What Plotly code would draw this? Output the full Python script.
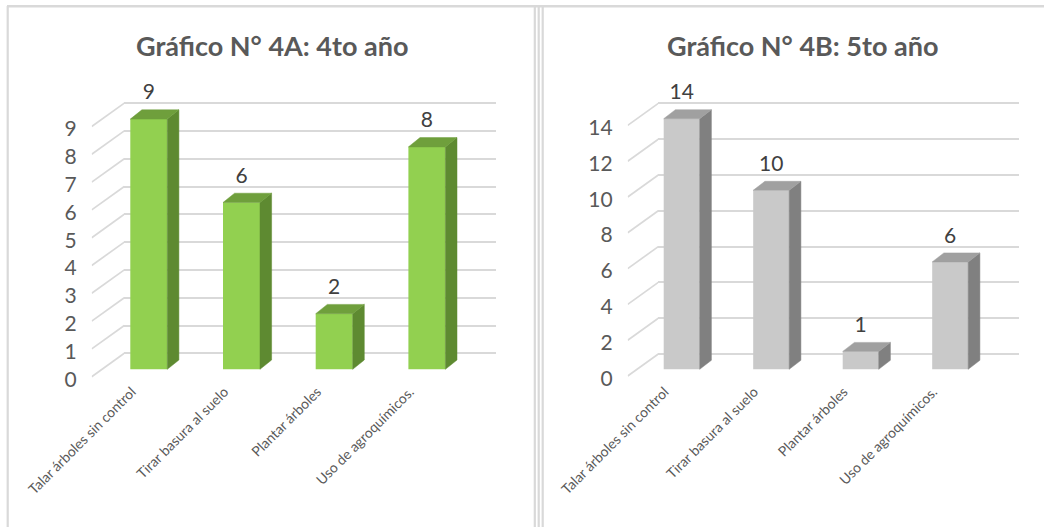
import plotly.graph_objects as go

# ---------------- data ----------------
categories = ["Talar árboles sin control", "Tirar basura al suelo", "Plantar árboles", "Uso de agroquímicos."]
values_4a = [9, 6, 2, 8]
values_4b = [14, 10, 1, 6]
ticks_4a = list(range(0, 10))
ticks_4b = list(range(0, 15, 2))
title_4a = "Gráfico N° 4A: 4to año"
title_4b = "Gráfico N° 4B: 5to año"

# ---------------- layout geometry (pixels) ----------------
W, H = 1044, 527
TOP, BOT = 70, 385
FONT = "Lato"
GRID = "#d9d9d9"

panels = [
    dict(values=values_4a, ticks=ticks_4a, title=title_4a,
         front="#92d050", top="#6f9f3c", side="#5e8a31",
         cx0=148.8, sp=92.7, bw=37, y0=369.3, sy=27.8, ddx=11.6, ddy=9.3,
         wall_x0=124.3, wall_x1=495.9, wall_y0=353.3,
         diag_x=91.7, diag_y0=376.7, lab_y0=379.3, title_x=272, lab_gap=25),
    dict(values=values_4b, ticks=ticks_4b, title=title_4b,
         front="#c9c9c9", top="#a0a0a0", side="#808080",
         cx0=681.7, sp=89.5, bw=36, y0=369.3, sy=17.9, ddx=11.7, ddy=9.0,
         wall_x0=658.3, wall_x1=1019, wall_y0=354,
         diag_x=627.7, diag_y0=376, lab_y0=378.3, title_x=802, lab_gap=24.5),
]


def fx(px):
    return px / W


def fy(py):
    return 1 - py / H


def sfx(n):
    return "" if n == 1 else str(n)


fig = go.Figure()
layout = {}
annotations = []

for k, p in enumerate(panels):
    m, d, w = 3 * k + 1, 3 * k + 2, 3 * k + 3
    xm, ym, xd, yd, yw = f"x{sfx(m)}", f"y{sfx(m)}", f"x{sfx(d)}", f"y{sfx(d)}", f"y{sfx(w)}"
    vals = p["values"]
    n = len(vals)
    idx = list(range(n))
    bw = p["bw"] / p["sp"]
    ox = p["ddx"] / p["sp"]
    oy = p["ddy"] / p["sy"]

    # main (bar plane) axes
    layout[f"xaxis{sfx(m)}"] = dict(
        domain=[fx(p["wall_x0"]), fx(p["wall_x1"])],
        range=[(p["wall_x0"] - p["cx0"]) / p["sp"], (p["wall_x1"] - p["cx0"]) / p["sp"]],
        anchor=ym, tickvals=idx, ticktext=categories, tickangle=-45, automargin=False,
        ticklabelshift=-17, ticklabelstandoff=-5,
        showgrid=False, zeroline=False, showline=False, ticks="",
        tickfont=dict(family=FONT, size=14, color="#595959"), fixedrange=True)
    layout[f"yaxis{sfx(m)}"] = dict(
        domain=[fy(BOT), fy(TOP)], automargin=False,
        range=[(p["y0"] - BOT) / p["sy"], (p["y0"] - TOP) / p["sy"]],
        anchor=xm, showgrid=False, zeroline=False, showticklabels=False, fixedrange=True)
    # back wall gridlines (overlay axis)
    layout[f"yaxis{sfx(w)}"] = dict(
        overlaying=ym, anchor=xm, automargin=False,
        range=[(p["wall_y0"] - BOT) / p["sy"], (p["wall_y0"] - TOP) / p["sy"]],
        tickvals=p["ticks"], showgrid=True, gridcolor=GRID, gridwidth=1.7,
        showticklabels=False, zeroline=False, fixedrange=True)
    # side wall diagonals + value tick labels
    layout[f"xaxis{sfx(d)}"] = dict(
        domain=[fx(p["diag_x"]), fx(p["wall_x0"])], range=[0, 1], anchor=yd, automargin=False,
        showgrid=False, zeroline=False, showline=False, showticklabels=False, fixedrange=True)
    layout[f"yaxis{sfx(d)}"] = dict(
        domain=[fy(BOT), fy(TOP)], automargin=False,
        range=[(p["lab_y0"] - BOT) / p["sy"], (p["lab_y0"] - TOP) / p["sy"]],
        anchor=xd, tickvals=p["ticks"], showgrid=False, zeroline=False, ticks="",
        ticklabelstandoff=14,
        tickfont=dict(family=FONT, size=21, color="#595959"), fixedrange=True)

    # invisible trace to activate the overlay axis
    fig.add_trace(go.Scatter(x=[0], y=[0], mode="markers", marker=dict(opacity=0),
                             hoverinfo="skip", showlegend=False, xaxis=xm, yaxis=yw))

    # diagonals
    dx, dy = [], []
    for t in p["ticks"]:
        dx += [0, 1, None]
        dy += [t + (p["lab_y0"] - p["diag_y0"]) / p["sy"], t + (p["lab_y0"] - p["wall_y0"]) / p["sy"], None]
    fig.add_trace(go.Scatter(x=dx, y=dy, mode="lines", line=dict(color=GRID, width=1.7),
                             hoverinfo="skip", showlegend=False, xaxis=xd, yaxis=yd))

    # front faces
    fig.add_trace(go.Bar(x=idx, y=vals, width=bw, marker=dict(color=p["front"], line=dict(width=0)),
                         showlegend=False, xaxis=xm, yaxis=ym))

    # side faces
    sx, sy_ = [], []
    for i, v in zip(idx, vals):
        r = i + bw / 2
        sx += [r, r + ox, r + ox, r, r, None]
        sy_ += [0, oy, v + oy, v, 0, None]
    fig.add_trace(go.Scatter(x=sx, y=sy_, mode="lines", fill="toself", fillcolor=p["side"],
                             line=dict(color=p["side"], width=0.5), hoverinfo="skip",
                             showlegend=False, xaxis=xm, yaxis=ym))
    # top faces
    tx, ty = [], []
    for i, v in zip(idx, vals):
        l, r = i - bw / 2, i + bw / 2
        tx += [l, l + ox, r + ox, r, l, None]
        ty += [v, v + oy, v + oy, v, v, None]
    fig.add_trace(go.Scatter(x=tx, y=ty, mode="lines", fill="toself", fillcolor=p["top"],
                             line=dict(color=p["top"], width=0.5), hoverinfo="skip",
                             showlegend=False, xaxis=xm, yaxis=ym))
    # data labels
    fig.add_trace(go.Scatter(x=idx, y=[v + p["lab_gap"] / p["sy"] for v in vals],
                             mode="text", text=[str(v) for v in vals], textposition="middle center",
                             textfont=dict(family=FONT, size=21, color="#404040"),
                             cliponaxis=False, hoverinfo="skip", showlegend=False,
                             xaxis=xm, yaxis=ym))

    annotations.append(dict(text=p["title"], x=fx(p["title_x"]), y=fy(45), xref="paper", yref="paper",
                            xanchor="center", yanchor="middle", showarrow=False,
                            font=dict(family=FONT, size=27, color="#595959", weight="bold")))

frame = "#d9d9d9"
shapes = [
    dict(type="line", xref="paper", yref="paper", x0=fx(7), x1=1, y0=fy(6.3), y1=fy(6.3),
         line=dict(color=frame, width=2.6)),
    dict(type="line", xref="paper", yref="paper", x0=fx(7.7), x1=fx(7.7), y0=fy(6), y1=0,
         line=dict(color=frame, width=2.2)),
]
for xv in (534.8, 538.7, 542.7):
    shapes.append(dict(type="line", xref="paper", yref="paper", x0=fx(xv), x1=fx(xv), y0=fy(6), y1=0,
                       line=dict(color=frame, width=2.2)))

fig.update_layout(
    width=W, height=H, margin=dict(l=0, r=0, t=0, b=0, autoexpand=False),
    paper_bgcolor="white", plot_bgcolor="rgba(0,0,0,0)",
    barmode="overlay", showlegend=False,
    annotations=annotations, shapes=shapes,
    **layout,
)

fig.write_html("out.html")
